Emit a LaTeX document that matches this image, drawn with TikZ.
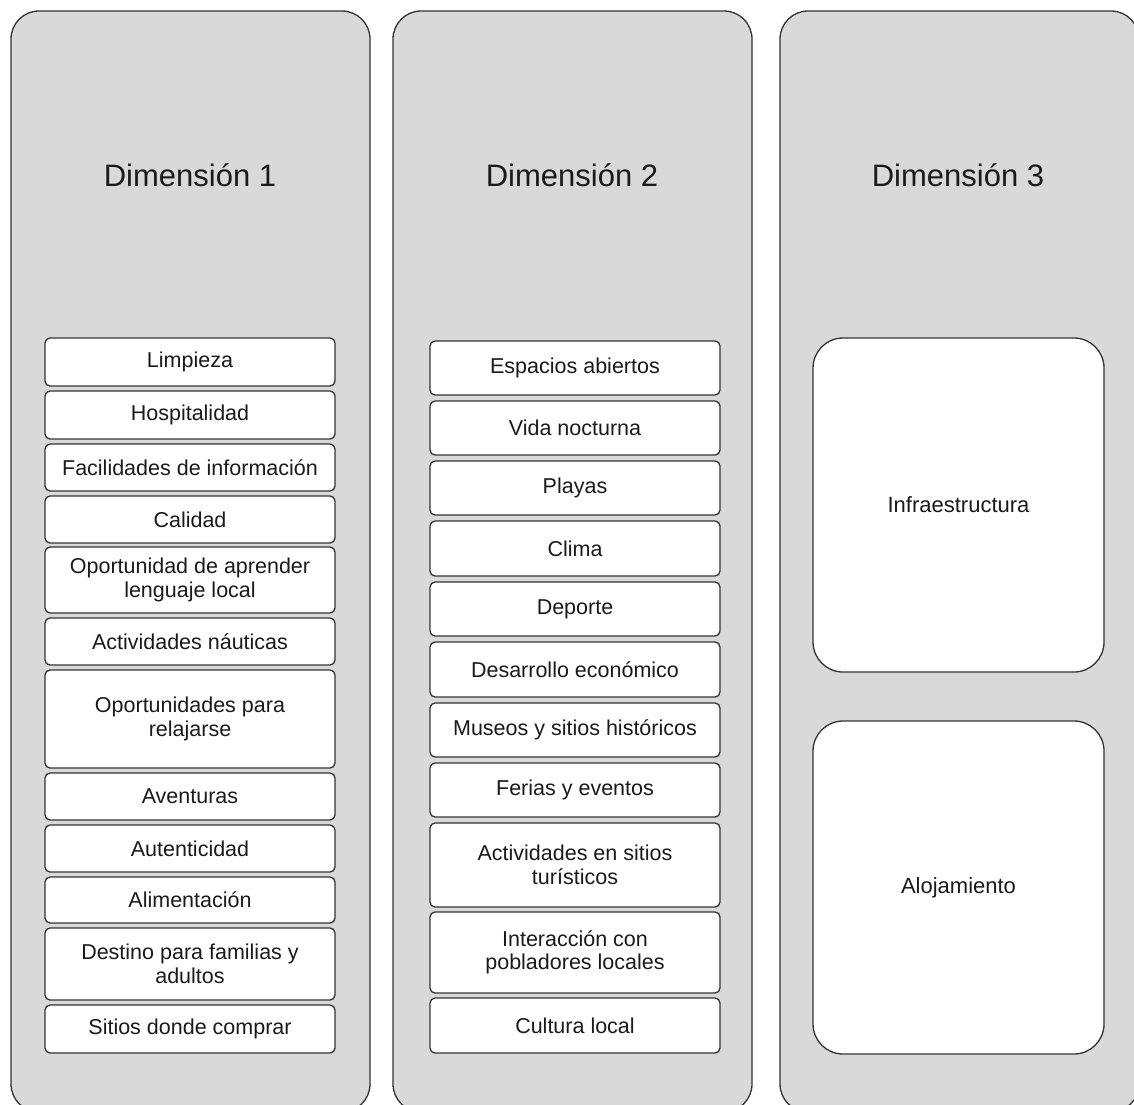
\documentclass[tikz,border=0pt]{standalone}
\usepackage{fontspec}
\setmainfont{Liberation Sans}
\definecolor{panelfill}{HTML}{D9D9D9}
\definecolor{edge}{HTML}{333333}
\definecolor{ink}{HTML}{1A1A1A}
\begin{document}
\begin{tikzpicture}[x=1pt,y=-1pt,
  panel/.style={draw=edge,fill=panelfill,line width=1.3pt,rounded corners=28pt},
  title/.style={anchor=base,text=ink,font=\fontsize{31}{36}\selectfont},
  item/.style={draw=edge,fill=white,line width=1.3pt,rounded corners=5pt,
    minimum width=290pt,inner sep=0pt,outer sep=0pt,align=center,text=ink,
    font=\fontsize{21.5}{23.5}\selectfont},
  bigitem/.style={draw=edge,fill=white,line width=1.3pt,rounded corners=30pt,
    minimum width=291pt,inner sep=0pt,outer sep=0pt,align=center,text=ink,
    font=\fontsize{22}{24}\selectfont}]
\useasboundingbox (0,0) rectangle (1134,1104);
\begin{scope}
\clip (0,0) rectangle (1134,1104);
\draw[panel] (11,11) rectangle (370,1112);
\draw[panel] (393,11) rectangle (752,1112);
\draw[panel] (780,11) rectangle (1139,1112);
\end{scope}
\node[title] (t1) at (190,186) {Dimensión 1};
\node[title] (t2) at (572,186) {Dimensión 2};
\node[title] (t3) at (958,186) {Dimensión 3};
% column 1
\node[item,minimum height=48pt] (a1) at (190,362) {Limpieza};
\node[item,minimum height=48pt] (a2) at (190,415) {Hospitalidad};
\node[item,minimum height=47pt] (a3) at (190,467.5) {Facilidades de información};
\node[item,minimum height=47pt] (a4) at (190,519.5) {Calidad};
\node[item,minimum height=66pt] (a5) at (190,580) {Oportunidad de aprender\\lenguaje local};
\node[item,minimum height=47pt] (a6) at (190,641.5) {Actividades náuticas};
\node[item,minimum height=98pt] (a7) at (190,719) {Oportunidades para\\relajarse};
\node[item,minimum height=47pt] (a8) at (190,796.5) {Aventuras};
\node[item,minimum height=47pt] (a9) at (190,848.5) {Autenticidad};
\node[item,minimum height=46pt] (a10) at (190,900) {Alimentación};
\node[item,minimum height=72pt] (a11) at (190,964) {Destino para familias y\\adultos};
\node[item,minimum height=48pt] (a12) at (190,1029) {Sitios donde comprar};
% column 2
\node[item,minimum height=54pt] (b1) at (575,368) {Espacios abiertos};
\node[item,minimum height=54pt] (b2) at (575,428) {Vida nocturna};
\node[item,minimum height=54pt] (b3) at (575,488) {Playas};
\node[item,minimum height=55pt] (b4) at (575,548.5) {Clima};
\node[item,minimum height=54pt] (b5) at (575,609) {Deporte};
\node[item,minimum height=55pt] (b6) at (575,669.5) {Desarrollo económico};
\node[item,minimum height=54pt] (b7) at (575,730) {Museos y sitios históricos};
\node[item,minimum height=54pt] (b8) at (575,790) {Ferias y eventos};
\node[item,minimum height=84pt] (b9) at (575,865) {Actividades en sitios\\turísticos};
\node[item,minimum height=81pt] (b10) at (575,952.5) {Interacción con\\pobladores locales};
\node[item,minimum height=55pt] (b11) at (575,1025.5) {Cultura local};
% column 3
\node[bigitem,minimum height=334pt] (c1) at (958.5,505) {Infraestructura};
\node[bigitem,minimum height=333pt] (c2) at (958.5,887.5) {Alojamiento};
\end{tikzpicture}
\end{document}
